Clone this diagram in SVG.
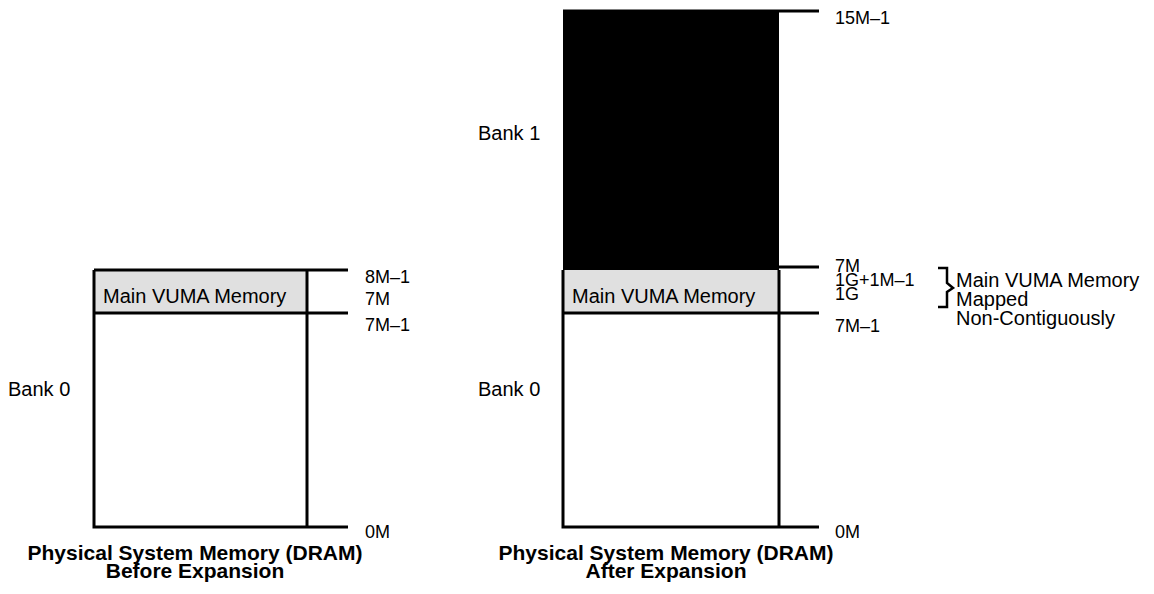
<svg xmlns="http://www.w3.org/2000/svg" width="1154" height="594" viewBox="0 0 1154 594">
<style>
.ln{stroke:#000;stroke-width:3;fill:none}
.t{font-family:"Liberation Sans",Arial,sans-serif;font-size:20px;fill:#000}
.lb{font-family:"Liberation Sans",Arial,sans-serif;font-size:18px;fill:#000}
.tt{font-family:"Liberation Sans",Arial,sans-serif;font-size:21px;font-weight:bold;fill:#000;text-anchor:middle}
</style>
<rect width="1154" height="594" fill="#fff"/>
<g id="before">
  <rect x="94" y="270" width="213" height="43" fill="#e0e0e0"/>
  <path class="ln" d="M94 270V527H348M94 270H348M94 313H348M307 270V527"/>
  <text class="t" x="103" y="303">Main VUMA Memory</text>
  <text class="t" x="8" y="396">Bank 0</text>
  <text class="lb" x="365" y="283">8M–1</text>
  <text class="lb" x="365" y="305">7M</text>
  <text class="lb" x="365" y="331">7M–1</text>
  <text class="lb" x="365" y="538">0M</text>
  <text class="tt" x="195" y="560">Physical System Memory (DRAM)</text>
  <text class="tt" x="195" y="578">Before Expansion</text>
</g>
<g id="after">
  <rect x="563" y="11" width="216" height="259" fill="#000"/>
  <rect x="563" y="270" width="216" height="43" fill="#e0e0e0"/>
  <path class="ln" d="M563 11H819M779 267H819M563 270V527H819M563 313H819M779 270V527"/>
  <text class="t" x="572" y="303">Main VUMA Memory</text>
  <text class="t" x="478" y="140">Bank 1</text>
  <text class="t" x="478" y="396">Bank 0</text>
  <text class="lb" x="835" y="24">15M–1</text>
  <text class="lb" x="835" y="272">7M</text>
  <text class="lb" x="835" y="286">1G+1M–1</text>
  <text class="lb" x="835" y="300">1G</text>
  <text class="lb" x="835" y="332">7M–1</text>
  <text class="lb" x="835" y="538">0M</text>
  <text class="tt" x="666" y="560">Physical System Memory (DRAM)</text>
  <text class="tt" x="666" y="578">After Expansion</text>
</g>
<g id="note">
  <path d="M938 268H947V283L953 288L947 292V307H938" fill="none" stroke="#000" stroke-width="2.5"/>
  <text class="t" x="956" y="287">Main VUMA Memory</text>
  <text class="t" x="956" y="306">Mapped</text>
  <text class="t" x="956" y="325">Non-Contiguously</text>
</g>
</svg>
